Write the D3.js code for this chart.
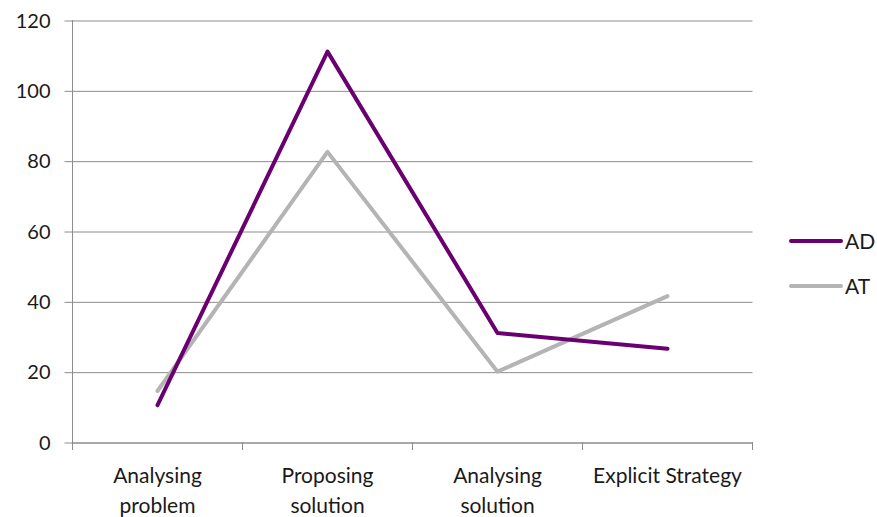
<!DOCTYPE html>
<html>
<head>
<meta charset="utf-8">
<script src="https://cdn.jsdelivr.net/npm/d3@7"></script>
<style>
  html, body { margin: 0; padding: 0; background: #fff; }
  text { font-family: Lato, "Open Sans", sans-serif; fill: #1a1a1a; }
</style>
</head>
<body>
<svg id="chart" width="877" height="517"></svg>
<script>
// Categories and series
const categories = [["Analysing", "problem"], ["Proposing", "solution"], ["Analysing", "solution"], ["Explicit Strategy"]];
const seriesNames = ["AD", "AT"];
const adValues = [10.5, 111, 31, 26.5];
const atValues = [14.5, 82.5, 20, 41.5];
const yTicks = [0, 20, 40, 60, 80, 100, 120];
const colors = { AD: "#6a0070", AT: "#b4b4b4" };

const series = [
  { name: seriesNames[0], values: adValues },
  { name: seriesNames[1], values: atValues }
];

const svg = d3.select("#chart");
const margin = { left: 72.5, right: 752.5, top: 20, bottom: 442 };

const x = d3.scaleBand()
  .domain(d3.range(categories.length))
  .range([margin.left, margin.right]);

const y = d3.scaleLinear()
  .domain([0, 120])
  .range([margin.bottom, margin.top]);

// Horizontal gridlines with outward ticks
const yAxis = d3.axisLeft(y)
  .tickValues(yTicks)
  .tickSize(margin.right - margin.left + 8)
  .tickFormat(d3.format("d"));

const gy = svg.append("g")
  .attr("transform", `translate(${margin.right},0)`)
  .call(yAxis);
gy.select(".domain").remove();
gy.selectAll(".tick line")
  .attr("stroke", "#8c8c8c")
  .attr("stroke-width", 1)
  .attr("transform", "translate(0,0.5)");
gy.selectAll(".tick text")
  .attr("x", -(margin.right - margin.left + 22))
  .attr("dy", "0.35em")
  .style("font-size", "20px")
  .style("text-anchor", "end");

// Vertical axis line
svg.append("line")
  .attr("x1", margin.left).attr("x2", margin.left)
  .attr("y1", margin.top).attr("y2", margin.bottom)
  .attr("stroke", "#8c8c8c");

// Category axis
const xAxis = d3.axisBottom(x).tickSize(0).tickFormat("");
const gx = svg.append("g")
  .attr("transform", `translate(0,${margin.bottom + 0.5})`)
  .call(xAxis);
gx.select(".domain").attr("stroke", "#8c8c8c");

// Tick marks between categories
const boundaries = d3.range(categories.length + 1).map(i =>
  i < categories.length ? x(i) : x(categories.length - 1) + x.bandwidth());
svg.append("g").selectAll("line")
  .data(boundaries)
  .join("line")
  .attr("x1", d => d).attr("x2", d => d)
  .attr("y1", margin.bottom).attr("y2", margin.bottom + 8)
  .attr("stroke", "#8c8c8c");

// Category labels
const labels = svg.append("g").selectAll("text")
  .data(categories)
  .join("text")
  .attr("x", (d, i) => x(i) + x.bandwidth() / 2)
  .attr("y", 483)
  .style("font-size", "21px")
  .style("text-anchor", "middle");
labels.selectAll("tspan")
  .data(d => d)
  .join("tspan")
  .attr("x", function () { return this.parentNode.getAttribute("x"); })
  .attr("dy", (d, i) => i === 0 ? 0 : 30)
  .text(d => d);

// Lines
const line = d3.line()
  .x((d, i) => x(i) + x.bandwidth() / 2)
  .y(d => y(d));

svg.append("g").selectAll("path")
  .data(series.slice().reverse())
  .join("path")
  .attr("d", d => line(d.values))
  .attr("fill", "none")
  .attr("stroke", d => colors[d.name])
  .attr("stroke-width", 4)
  .attr("stroke-linejoin", "round")
  .attr("stroke-linecap", "round");

// Legend
const legend = svg.append("g").selectAll("g")
  .data(series)
  .join("g")
  .attr("transform", (d, i) => `translate(791,${241 + i * 45})`);
legend.append("line")
  .attr("x1", 0).attr("x2", 50)
  .attr("stroke", d => colors[d.name])
  .attr("stroke-width", 4)
  .attr("stroke-linecap", "round");
legend.append("text")
  .attr("x", 54)
  .attr("dy", "0.36em")
  .style("font-size", "21px")
  .text(d => d.name);
</script>
</body>
</html>
